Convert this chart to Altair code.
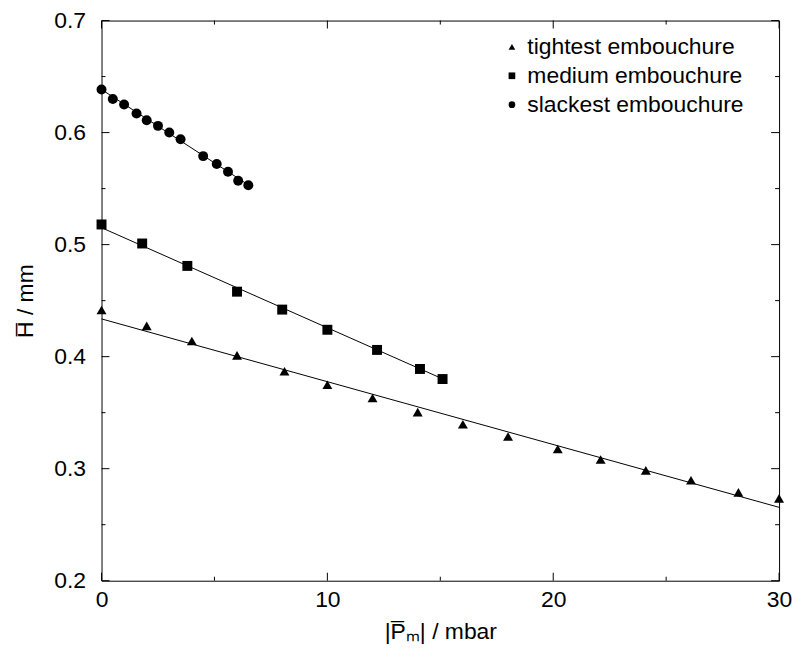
import altair as alt
import pandas as pd

# ---- data ----
series_names = ["tightest embouchure", "medium embouchure", "slackest embouchure"]

tight_x = [0, 2.0, 4.0, 6.0, 8.1, 10.0, 12.0, 14.0, 16.0, 18.0, 20.2, 22.1, 24.1, 26.1, 28.2, 30.0]
tight_y = [0.4416, 0.4275, 0.4140, 0.4011, 0.3870, 0.3749, 0.3631, 0.3505, 0.3396, 0.3287,
           0.3176, 0.3082, 0.2985, 0.2897, 0.2788, 0.2735]

medium_x = [0, 1.8, 3.8, 6.0, 8.0, 10.0, 12.2, 14.1, 15.1]
medium_y = [0.518, 0.501, 0.481, 0.458, 0.442, 0.424, 0.406, 0.389, 0.380]

slack_x = [0, 0.5, 1.0, 1.55, 2.0, 2.5, 3.0, 3.5, 4.5, 5.1, 5.6, 6.05, 6.5]
slack_y = [0.6385, 0.630, 0.625, 0.617, 0.611, 0.606, 0.600, 0.594, 0.579, 0.572, 0.565, 0.557, 0.553]

# fitted straight lines: start / end points
fit_x0 = [0, 0, 0]
fit_x1 = [30.0, 15.1, 6.5]
fit_y0 = [0.4337, 0.5151, 0.6385]
fit_y1 = [0.2655, 0.3802, 0.5533]

x_major = [0, 10, 20, 30]
x_minor = [5, 15, 25]
y_major = [0.2, 0.3, 0.4, 0.5, 0.6, 0.7]
y_minor = [0.25, 0.35, 0.45, 0.55, 0.65]

# ---- tables ----
pts = pd.concat([
    pd.DataFrame({"series": series_names[0], "x": tight_x, "y": tight_y}),
    pd.DataFrame({"series": series_names[1], "x": medium_x, "y": medium_y}),
    pd.DataFrame({"series": series_names[2], "x": slack_x, "y": slack_y}),
], ignore_index=True)

fits = pd.DataFrame({
    "series": series_names + series_names,
    "x": fit_x0 + fit_x1,
    "y": fit_y0 + fit_y1,
})

W, H = 681, 563
FONT = "Liberation Sans"

xs = alt.Scale(domain=[0, 30], nice=False, zero=False)
ys = alt.Scale(domain=[0.2, 0.7], nice=False, zero=False)

base_x = alt.X("x:Q", scale=xs,
               axis=alt.Axis(values=x_major, ticks=False, domain=False, grid=False,
                             labelFlush=False,
                             title="|P\u0305\u2098| / mbar", labelPadding=8,
                             titlePadding=9))
base_y = alt.Y("y:Q", scale=ys,
               axis=alt.Axis(values=y_major, format=".1f", ticks=False, domain=False,
                             grid=False, labelFlush=False,
                             title="H\u0305 / mm", labelPadding=16,
                             titlePadding=16))

lines = alt.Chart(fits).mark_line(color="black", strokeWidth=1).encode(
    x=base_x, y=base_y, detail="series:N")

points = alt.Chart(pts).mark_point(filled=True, color="black", opacity=1, size=100).encode(
    x=alt.X("x:Q", scale=xs),
    y=alt.Y("y:Q", scale=ys),
    shape=alt.Shape("series:N",
                    scale=alt.Scale(domain=series_names,
                                    range=["triangle-up", "square", "circle"]),
                    legend=alt.Legend(title=None, orient="none", legendX=401, legendY=15,
                                      labelFontSize=23, labelFont=FONT, labelColor="black",
                                      labelLimit=0,
                                      symbolSize=45, symbolFillColor="black",
                                      symbolStrokeColor="black", symbolStrokeWidth=0,
                                      rowPadding=5, labelOffset=4, padding=0)),
)

def xticks(vals, L):
    df = pd.DataFrame({"v": vals})
    bottom = alt.Chart(df).mark_rule(color="black", strokeWidth=1).encode(
        x=alt.X("v:Q", scale=xs), y=alt.value(H), y2=alt.value(H - L))
    top = alt.Chart(df).mark_rule(color="black", strokeWidth=1).encode(
        x=alt.X("v:Q", scale=xs), y=alt.value(0), y2=alt.value(L))
    return bottom + top

def yticks(vals, L):
    df = pd.DataFrame({"v": vals})
    left = alt.Chart(df).mark_rule(color="black", strokeWidth=1).encode(
        y=alt.Y("v:Q", scale=ys), x=alt.value(0), x2=alt.value(L))
    right = alt.Chart(df).mark_rule(color="black", strokeWidth=1).encode(
        y=alt.Y("v:Q", scale=ys), x=alt.value(W), x2=alt.value(W - L))
    return left + right

chart = alt.layer(
    lines, points,
    xticks(x_major, 8), xticks(x_minor, 4),
    yticks(y_major, 8), yticks(y_minor, 4),
).properties(
    width=W, height=H,
    autosize=alt.AutoSizeParams(type="none"),
    padding={"left": 94, "top": 11, "right": 14, "bottom": 64},
).configure(font=FONT).configure_view(
    stroke="black", strokeWidth=1
).configure_axis(
    labelFontSize=23, titleFontSize=23, labelFont=FONT, titleFont=FONT,
    labelColor="black", titleColor="black", titleFontWeight="normal",
)

chart.save("out.html", embed_options={"renderer": "svg", "actions": False})
